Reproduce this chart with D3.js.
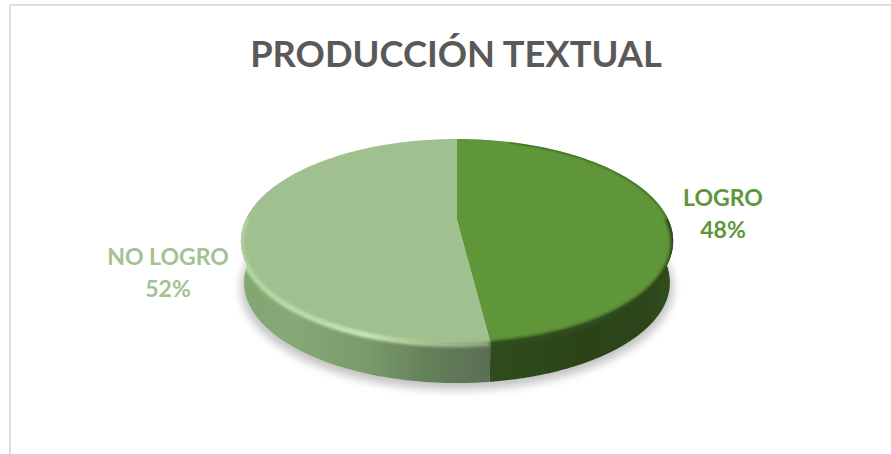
<!DOCTYPE html>
<html><head><meta charset="utf-8">
<script src="https://cdn.jsdelivr.net/npm/d3@7"></script>
<style>html,body{margin:0;padding:0;background:#fff;overflow:hidden}svg{display:block}text{font-family:Lato,"Open Sans",sans-serif;font-weight:700;text-anchor:middle}</style>
</head><body>
<svg id="c" width="891" height="454"></svg>
<script>
const chartTitle = "PRODUCCIÓN TEXTUAL";
const categories = ["LOGRO", "NO LOGRO"];
const values = [48, 52];
const percentLabels = ["48%", "52%"];
const topColors = ["#5f9639", "#a0c08f"];
const labelColors = ["#5f9639", "#a3c293"];

const svg = d3.select("#c");
const W = 891, H = 454;
// frame
svg.append("path").attr("d", `M10,${H}V5H${W}`).attr("fill","none").attr("stroke","#dedede").attr("stroke-width",2);

svg.append("text").attr("x",456).attr("y",67).attr("font-size",36.3).attr("fill","#595959").text(chartTitle);

// perspective projection of the unit disc
const cx=457, hubY=220, R=211.5, S=97.7, k=0.206;
const proj = (a,drop=0,shrink=1) => {
  const u=Math.sin(a), v=-Math.cos(a), w=1-k*v;
  return [cx+shrink*R*u/w, hubY+shrink*S*v/w+drop+(1-shrink)*22];
};
const pie = d3.pie().sort(null).startAngle(0).endAngle(2*Math.PI).value(d=>d);
const arcs = pie(values);
const samples = (a0,a1,n=160)=>d3.range(n+1).map(i=>a0+(a1-a0)*i/n);
const line = d3.line();
const DROP=41.5, SH=0.985;

const defs = svg.append("defs");
const blur=(id,s)=>defs.append("filter").attr("id",id).attr("x","-20%").attr("y","-20%").attr("width","140%").attr("height","140%").append("feGaussianBlur").attr("stdDeviation",s);
blur("sh",5); blur("soft",1.6); blur("edge",0.8);

const grad=(id,x1,x2,stops)=>{
  const g=defs.append("linearGradient").attr("id",id).attr("gradientUnits","userSpaceOnUse").attr("x1",x1).attr("x2",x2).attr("y1",0).attr("y2",0);
  stops.forEach(s=>g.append("stop").attr("offset",s[0]).attr("stop-color",s[1]).attr("stop-opacity",s[2]===undefined?1:s[2]));
};
grad("wallL",243,491,[[0,"#82a672"],[0.2,"#86a876"],[0.5,"#7a9a6c"],[0.75,"#64805a"],[1,"#5a6d54"]]);
grad("wallR",491,672,[[0,"#2f4c1c"],[0.5,"#2a4418"],[0.85,"#2c4419"],[1,"#33501f"]]);
grad("rimL",241,491,[[0,"#b6d6a4"],[0.25,"#bfe0ab"],[0.5,"#cdedb8"],[0.75,"#a8c596"],[1,"#8fa883"]]);
grad("rimR",491,672,[[0,"#33501f"],[0.7,"#2f4c1c"],[1,"#2c4419"]]);

const rimFull = samples(0,2*Math.PI,360).map(a=>proj(a));

// shadow
const shadowPts = samples(Math.PI/2-0.4,3*Math.PI/2+0.4,200).map(a=>proj(a,DROP+5,1));
svg.append("path").attr("d",line(shadowPts)+"Z").attr("fill","#000").attr("opacity",0.24).attr("filter","url(#sh)");

// walls: visible front part of each slice
const RIGHT=Math.PI/2, LEFT=3*Math.PI/2;
const wall = (a0,a1)=>{
  const t=samples(a0,a1).map(a=>proj(a));
  const b=samples(a1,a0).map(a=>proj(a,DROP,SH));
  return line(t.concat(b))+"Z";
};
svg.append("path").attr("d",wall(RIGHT,arcs[0].endAngle)).attr("fill","url(#wallR)");
svg.append("path").attr("d",wall(arcs[1].startAngle,LEFT)).attr("fill","url(#wallL)");

// top slices
const slice = d=>{
  const pts=samples(d.startAngle,d.endAngle,200).map(a=>proj(a));
  return line([[cx,hubY],...pts])+"Z";
};
svg.selectAll("path.top").data(arcs).join("path").attr("class","top")
  .attr("d",slice).attr("fill",(d,i)=>topColors[i]);

// bevel highlights on the near rim
const clip=defs.append("clipPath").attr("id","body");
clip.append("path").attr("d",line(samples(RIGHT,LEFT,300).map(a=>proj(a)).concat(samples(LEFT,RIGHT,300).map(a=>proj(a,DROP,SH))))+"Z");
clip.append("path").attr("d",line(rimFull)+"Z");
const rimG=svg.append("g").attr("clip-path","url(#body)");
rimG.append("path").attr("d",line(samples(arcs[1].startAngle,LEFT+0.03).map(a=>proj(a,1.5)))).attr("fill","none").attr("stroke","url(#rimL)").attr("stroke-width",5).attr("filter","url(#soft)");
rimG.append("path").attr("d",line(samples(RIGHT-0.03,arcs[0].endAngle).map(a=>proj(a,1.5)))).attr("fill","none").attr("stroke","url(#rimR)").attr("stroke-width",5).attr("filter","url(#soft)");

// soft dark back edge of the right slice, kept inside the top face
defs.append("clipPath").attr("id","topFace").append("path").attr("d",line(rimFull)+"Z");
svg.append("g").attr("clip-path","url(#topFace)").append("path").attr("d",line(samples(0.3,RIGHT+0.02).map(a=>proj(a)))).attr("fill","none").attr("stroke","#3a6323").attr("stroke-width",2.4).attr("filter","url(#edge)");

// labels
const labelPos=[[723,206,238],[168,265,297]];
categories.forEach((c,i)=>{
  svg.append("text").attr("x",labelPos[i][0]).attr("y",labelPos[i][1]).attr("font-size",23).attr("fill",labelColors[i]).text(c);
  svg.append("text").attr("x",labelPos[i][0]).attr("y",labelPos[i][2]).attr("font-size",23).attr("fill",labelColors[i]).text(percentLabels[i]);
});
</script>
</body></html>
